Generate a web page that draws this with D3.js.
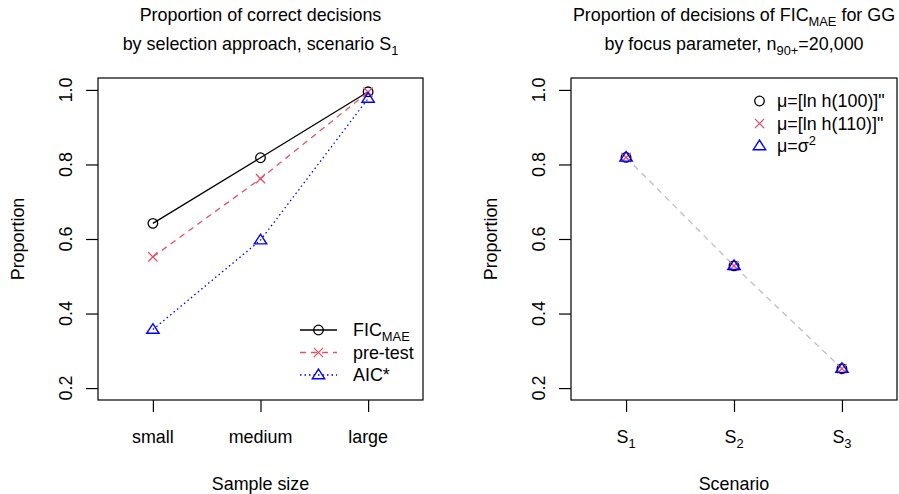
<!DOCTYPE html>
<html><head><meta charset="utf-8">
<script src="https://cdn.jsdelivr.net/npm/d3@7"></script>
<style>body{margin:0;background:#fff}svg{display:block}text{font-family:"Liberation Sans",Arial,sans-serif;fill:#000}</style>
</head><body>
<svg id="c" width="899" height="494"></svg>
<script>
// ---- data ----
const sampleSizes = ["small", "medium", "large"];
const ficMAE  = [0.642, 0.818, 0.995];
const preTest = [0.552, 0.762, 0.994];
const aicStar = [0.357, 0.597, 0.977];

const scenarios = ["1", "2", "3"]; // S subscripts
const focus100    = [0.819, 0.528, 0.252];
const focus110    = [0.819, 0.528, 0.252];
const focusSigma2 = [0.819, 0.528, 0.252];

const yTicks = [0.2, 0.4, 0.6, 0.8, 1.0];

// ---- layout ----
const svg = d3.select("#c");
const FS = 17.9;
const panels = [{x0: 98, x1: 423}, {x0: 571, x1: 897}];
const plotTop = 78, plotBottom = 400;
const y = d3.scaleLinear().domain([0.168, 1.032]).range([plotBottom, plotTop]);

function rich(g, x, yy, segs, anchor, rotate) {
  const t = g.append("text").attr("font-size", FS).attr("text-anchor", anchor || "middle");
  if (rotate) t.attr("transform", `translate(${x},${yy}) rotate(-90)`);
  else t.attr("x", x).attr("y", yy);
  let shift = 0;
  segs.forEach(s => {
    const ts = t.append("tspan").text(s.t);
    let target = 0, size = FS;
    if (s.sub) { target = 5; size = FS * 0.72; }
    if (s.sup) { target = -7; size = FS * 0.72; }
    ts.attr("dy", target - shift).attr("font-size", size);
    shift = target;
  });
  return t;
}

function marker(g, type, cx, cy, color) {
  if (type === "circle") {
    g.append("circle").attr("cx", cx).attr("cy", cy).attr("r", 4.8)
      .attr("fill", "none").attr("stroke", color).attr("stroke-width", 1.3);
  } else if (type === "x") {
    const d = 4.6;
    g.append("path").attr("d", `M${cx-d},${cy-d}L${cx+d},${cy+d}M${cx-d},${cy+d}L${cx+d},${cy-d}`)
      .attr("stroke", color).attr("stroke-width", 1.3).attr("fill", "none");
  } else {
    const s = 6.2;
    g.append("path").attr("d", `M${cx},${cy-s*0.95}L${cx+s},${cy+s*0.6}L${cx-s},${cy+s*0.6}Z`)
      .attr("stroke", color).attr("stroke-width", 1.4).attr("fill", "none");
  }
}

function frame(p, labelsFn, xTitle, titles) {
  const g = svg.append("g");
  const x = d3.scaleLinear().domain([0.49, 3.51]).range([p.x0, p.x1]);
  g.append("rect").attr("x", p.x0).attr("y", plotTop).attr("width", p.x1 - p.x0).attr("height", plotBottom - plotTop)
    .attr("fill", "none").attr("stroke", "#000").attr("stroke-width", 1.2);
  const ya = d3.axisLeft(y).tickValues(yTicks).tickSize(12).tickFormat("");
  const yg = g.append("g").attr("transform", `translate(${p.x0},0)`).call(ya);
  yg.select(".domain").remove();
  yg.selectAll(".tick line").attr("stroke", "#000").attr("stroke-width", 1.2);
  yTicks.forEach(v => {
    g.append("text").attr("font-size", FS).attr("text-anchor", "middle")
      .attr("transform", `translate(${p.x0 - 26},${y(v)}) rotate(-90)`).text(d3.format(".1f")(v));
  });
  const xa = d3.axisBottom(x).tickValues([1, 2, 3]).tickSize(12).tickFormat("");
  const xg = g.append("g").attr("transform", `translate(0,${plotBottom})`).call(xa);
  xg.select(".domain").remove();
  xg.selectAll(".tick line").attr("stroke", "#000").attr("stroke-width", 1.2);
  [1, 2, 3].forEach((v, i) => rich(g, x(v), 443, labelsFn(i), "middle"));
  rich(g, (p.x0 + p.x1) / 2, 490, [{t: xTitle}], "middle");
  rich(g, p.x0 - 74, (plotTop + plotBottom) / 2, [{t: "Proportion"}], "middle", true);
  rich(g, (p.x0 + p.x1) / 2, 21, titles[0], "middle");
  rich(g, (p.x0 + p.x1) / 2, 50, titles[1], "middle");
  return {g, x};
}

// ---- left panel ----
const L = frame(panels[0], i => [{t: sampleSizes[i]}], "Sample size",
  [[{t: "Proportion of correct decisions"}],
   [{t: "by selection approach, scenario S"}, {t: "1", sub: true}]]);
const leftSeries = [
  {v: ficMAE, color: "#000000", dash: null, m: "circle", name: [{t: "FIC"}, {t: "MAE", sub: true}]},
  {v: preTest, color: "#DF536B", dash: "6,5", m: "x", name: [{t: "pre-test"}]},
  {v: aicStar, color: "#0000FF", dash: "1.5,3", m: "tri", name: [{t: "AIC*"}]}
];
const line = d3.line().x((d, i) => L.x(i + 1)).y(d => y(d));
leftSeries.forEach(s => {
  L.g.append("path").attr("d", line(s.v)).attr("fill", "none").attr("stroke", s.color)
    .attr("stroke-width", 1.3).attr("stroke-dasharray", s.dash);
  s.v.forEach((d, i) => marker(L.g, s.m, L.x(i + 1), y(d), s.color));
});
leftSeries.forEach((s, k) => {
  const ly = 330 + k * 22.5;
  L.g.append("line").attr("x1", 300).attr("x2", 337).attr("y1", ly).attr("y2", ly)
    .attr("stroke", s.color).attr("stroke-width", 1.3).attr("stroke-dasharray", s.dash);
  marker(L.g, s.m, 318.5, ly, s.color);
  rich(L.g, 353, ly + 6, s.name, "start");
});

// ---- right panel ----
const R = frame(panels[1], i => [{t: "S"}, {t: scenarios[i], sub: true}], "Scenario",
  [[{t: "Proportion of decisions of FIC"}, {t: "MAE", sub: true}, {t: " for GG"}],
   [{t: "by focus parameter, n"}, {t: "90+", sub: true}, {t: "=20,000"}]]);
const rline = d3.line().x((d, i) => R.x(i + 1)).y(d => y(d));
R.g.append("path").attr("d", rline(focus100)).attr("fill", "none").attr("stroke", "#BEBEBE")
  .attr("stroke-width", 1.3).attr("stroke-dasharray", "6,5");
const rightSeries = [
  {v: focus100, color: "#000000", m: "circle", name: [{t: "μ=[ln h(100)]\""}]},
  {v: focus110, color: "#DF536B", m: "x", name: [{t: "μ=[ln h(110)]\""}]},
  {v: focusSigma2, color: "#0000FF", m: "tri", name: [{t: "μ=σ"}, {t: "2", sup: true}]}
];
rightSeries.forEach(s => s.v.forEach((d, i) => marker(R.g, s.m, R.x(i + 1), y(d), s.color)));
rightSeries.forEach((s, k) => {
  const ly = 101 + k * 22.5;
  marker(R.g, s.m, 759.5, ly, s.color);
  rich(R.g, 777, ly + 6, s.name, "start");
});
</script>
</body></html>
